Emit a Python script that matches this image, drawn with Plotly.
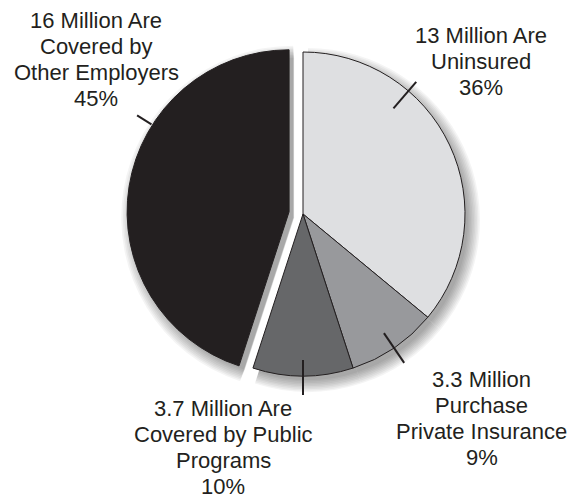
import math
import plotly.graph_objects as go

# ---- data ----
categories = ["Uninsured", "Private insurance", "Public programs", "Other employers"]
values = [36, 9, 10, 45]
label_lines = [
    ["13 Million Are", "Uninsured"],
    ["3.3 Million", "Purchase", "Private Insurance"],
    ["3.7 Million Are", "Covered by Public", "Programs"],
    ["16 Million Are", "Covered by", "Other Employers"],
]
slice_colors = ["#dedfe1", "#98999c", "#666769", "#231f20"]
pulls = [0, 0, 0, 0.087]

# ---- layout geometry (pixels) ----
W, H = 578, 498
CX, CY, R = 303, 214, 162
MAXPULL = max(pulls)
INK = "#231f20"
FONT = "Liberation Sans, Arial, Helvetica, sans-serif"
FS = 22
LINE_GAP = 26.2

# label block anchors: centre x, first baseline y
label_pos = [(481, 43), (481.5, 387), (223, 416), (96, 28)]
# leader ticks: angle (None = slice middle), inner / outer radius
tick_angle = [40.6, None, None, 302.4]
tick_radii = [(139, 174), (144, 180), (146, 181), (163, 180)]


def px_x(x):
    return x / W


def px_y(y):
    return 1 - y / H


def domain_for(cx, cy, r):
    half = r * (1 + MAXPULL)
    return dict(x=[px_x(cx - half), px_x(cx + half)],
                y=[px_y(cy + half), px_y(cy - half)])


def point(cx, cy, ang, d):
    a = math.radians(ang)
    return cx + d * math.sin(a), cy - d * math.cos(a)


total = sum(values)
mids = []
acc = 0
for v in values:
    mids.append(360 * (acc + v / 2) / total)
    acc += v

fig = go.Figure()

# soft drop shadow: stacked translucent copies, offset down-right
for extra in [-2, -0.5, 1, 2.5, 4, 5.5, 7, 8.5, 10]:
    fig.add_trace(go.Pie(
        values=values, labels=categories, sort=False, direction="clockwise",
        rotation=0, pull=pulls, textinfo="none", hoverinfo="skip",
        marker=dict(colors=["rgba(0,0,0,0.042)"] * len(values), line=dict(width=0)),
        domain=domain_for(CX + 5, CY + 6, R + extra), showlegend=False,
    ))

# main pie
fig.add_trace(go.Pie(
    values=values, labels=categories, sort=False, direction="clockwise",
    rotation=0, pull=pulls, textinfo="none",
    marker=dict(colors=slice_colors, line=dict(color=INK, width=1)),
    domain=domain_for(CX, CY, R), showlegend=False,
))

shapes = []
annotations = []
for i, v in enumerate(values):
    ang_mid = mids[i]
    # centre of this slice after pulling
    shift = pulls[i] * R
    scx, scy = point(CX, CY, ang_mid, shift)
    ang = tick_angle[i] if tick_angle[i] is not None else ang_mid
    r0, r1 = tick_radii[i]
    x0, y0 = point(scx, scy, ang, r0)
    x1, y1 = point(scx, scy, ang, r1)
    shapes.append(dict(type="line", xref="paper", yref="paper",
                       x0=px_x(x0), y0=px_y(y0), x1=px_x(x1), y1=px_y(y1),
                       line=dict(color=INK, width=2)))

    lines = label_lines[i] + [f"{round(100 * v / total)}%"]
    lx, ly = label_pos[i]
    for k, txt in enumerate(lines):
        base = ly + k * LINE_GAP
        annotations.append(dict(
            text=txt, x=px_x(lx), y=px_y(base - 0.3465 * FS),
            xref="paper", yref="paper", xanchor="center", yanchor="middle",
            showarrow=False, borderpad=0,
            font=dict(family=FONT, size=FS, color=INK),
        ))

fig.update_layout(
    width=W, height=H,
    margin=dict(l=0, r=0, t=0, b=0),
    paper_bgcolor="white", plot_bgcolor="white",
    shapes=shapes, annotations=annotations,
)

fig.write_html("out.html")
